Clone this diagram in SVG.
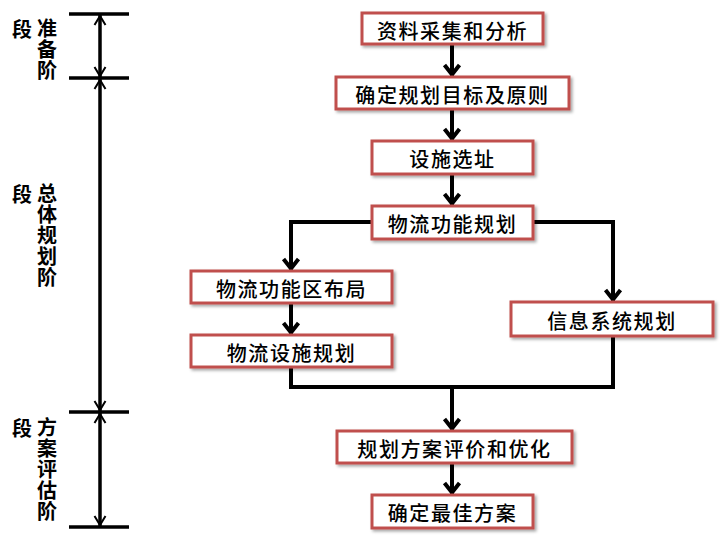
<svg xmlns="http://www.w3.org/2000/svg" width="723" height="548" viewBox="0 0 723 548">
<style>
.box rect{fill:#fff;stroke:#C0504D;stroke-width:3;filter:url(#sh)}
.box text{font-family:"Noto Sans CJK SC","Noto Sans",sans-serif;font-size:20px;font-weight:500;fill:#000;text-anchor:middle;dominant-baseline:central;letter-spacing:1.6px}
.lbl text{font-family:"Noto Sans CJK SC","Noto Sans",sans-serif;font-size:20px;font-weight:700;fill:#000}
.lbl .h{text-anchor:middle;dominant-baseline:central}
.lbl .v{writing-mode:vertical-rl;text-anchor:start;letter-spacing:1.2px}
.con{fill:none;stroke:#000;stroke-width:4}
.tl{fill:none;stroke:#000;stroke-width:3.5}
</style>
<defs>
<filter id="sh" x="-10%" y="-20%" width="130%" height="160%">
<feDropShadow dx="2" dy="2" stdDeviation="1.5" flood-color="#000" flood-opacity="0.35"/>
</filter>
<marker id="arr" viewBox="-16 -10 20 20" markerWidth="20" markerHeight="20" markerUnits="userSpaceOnUse" refX="0" refY="0" orient="auto">
<path d="M-12,-7.5 L-2.5,0 L-12,7.5" fill="none" stroke="#000" stroke-width="4"/>
</marker>
<marker id="tarr" viewBox="-14 -8 16 16" markerWidth="16" markerHeight="16" markerUnits="userSpaceOnUse" refX="0" refY="0" orient="auto-start-reverse">
<path d="M-10,-5.5 L-1,0 L-10,5.5" fill="none" stroke="#000" stroke-width="2"/>
</marker>
</defs>

<g id="timeline">
<line class="tl" x1="69" y1="14" x2="129" y2="14"/>
<line class="tl" x1="69" y1="78" x2="129" y2="78"/>
<line class="tl" x1="69" y1="412" x2="129" y2="412"/>
<line class="tl" x1="69" y1="527" x2="129" y2="527"/>
<line class="tl" x1="100" y1="15" x2="100" y2="77" marker-start="url(#tarr)" marker-end="url(#tarr)"/>
<line class="tl" x1="100" y1="79" x2="100" y2="411" marker-start="url(#tarr)" marker-end="url(#tarr)"/>
<line class="tl" x1="100" y1="413" x2="100" y2="526" marker-start="url(#tarr)" marker-end="url(#tarr)"/>
</g>

<g id="stage1" class="lbl">
<text class="h" x="22" y="28">段</text>
<text class="v" x="47" y="18">准备阶</text>
</g>
<g id="stage2" class="lbl">
<text class="h" x="22" y="193">段</text>
<text class="v" x="47" y="183">总体规划阶</text>
</g>
<g id="stage3" class="lbl">
<text class="h" x="22" y="427">段</text>
<text class="v" x="47" y="417">方案评估阶</text>
</g>

<g id="connectors">
<line class="con" x1="452" y1="44" x2="452" y2="77" marker-end="url(#arr)"/>
<line class="con" x1="452" y1="109" x2="452" y2="141" marker-end="url(#arr)"/>
<line class="con" x1="452" y1="174" x2="452" y2="206" marker-end="url(#arr)"/>
<polyline class="con" points="372,222 291,222 291,271" marker-end="url(#arr)"/>
<polyline class="con" points="533,222 613,222 613,302" marker-end="url(#arr)"/>
<line class="con" x1="291" y1="303" x2="291" y2="335" marker-end="url(#arr)"/>
<polyline class="con" points="291,367 291,387 613,387 613,336"/>
<line class="con" x1="452" y1="387" x2="452" y2="431" marker-end="url(#arr)"/>
<line class="con" x1="452" y1="463" x2="452" y2="495" marker-end="url(#arr)"/>
</g>

<g id="n1" class="box"><rect x="362" y="13" width="181" height="31"/><text x="452.5" y="30">资料采集和分析</text></g>
<g id="n2" class="box"><rect x="336" y="77" width="233" height="32"/><text x="452.5" y="94">确定规划目标及原则</text></g>
<g id="n3" class="box"><rect x="372" y="141" width="161" height="33"/><text x="452.5" y="158.5">设施选址</text></g>
<g id="n4" class="box"><rect x="372" y="206" width="161" height="33"/><text x="452.5" y="223.5">物流功能规划</text></g>
<g id="n5" class="box"><rect x="191" y="271" width="201" height="32"/><text x="291.5" y="288">物流功能区布局</text></g>
<g id="n6" class="box"><rect x="191" y="335" width="201" height="32"/><text x="291.5" y="352">物流设施规划</text></g>
<g id="n7" class="box"><rect x="511" y="302" width="202" height="34"/><text x="612" y="320">信息系统规划</text></g>
<g id="n8" class="box"><rect x="337" y="431" width="235" height="32"/><text x="454.5" y="448">规划方案评价和优化</text></g>
<g id="n9" class="box"><rect x="372" y="495" width="161" height="33"/><text x="452.5" y="512.5">确定最佳方案</text></g>
</svg>
